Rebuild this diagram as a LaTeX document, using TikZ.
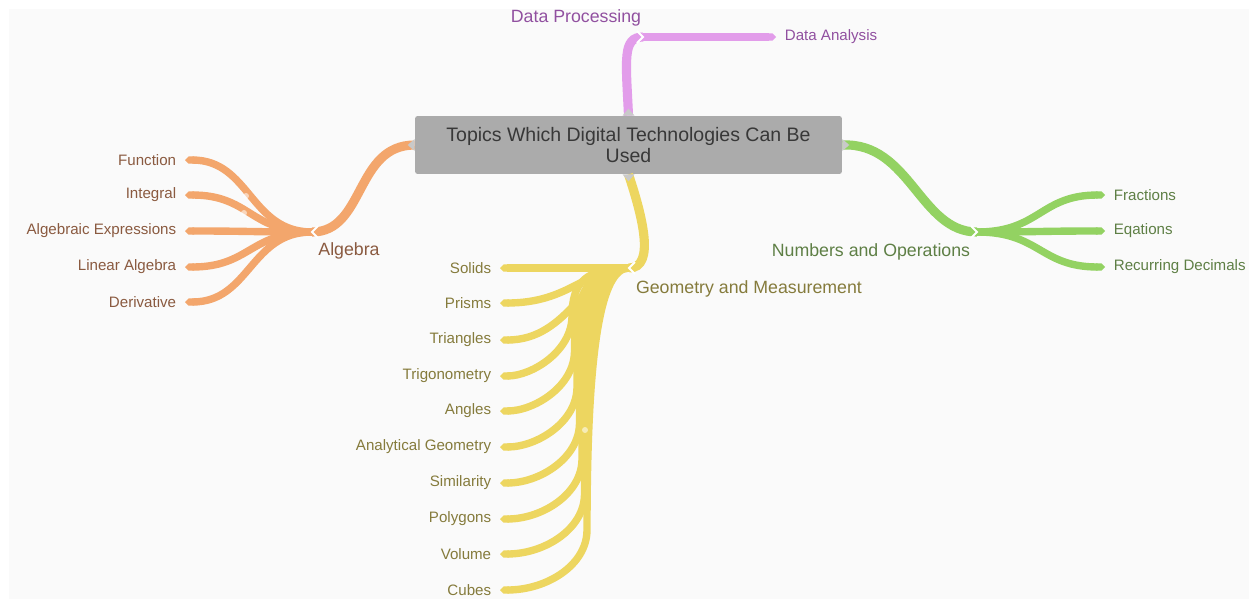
\documentclass[tikz,border=0pt]{standalone}
\usepackage{fontspec}
\setmainfont{Liberation Sans}
\usetikzlibrary{arrows.meta}
\definecolor{bgc}{HTML}{FAFAFA}
\definecolor{rootc}{HTML}{ABABAB}
\definecolor{roottext}{HTML}{383838}
\definecolor{tabc}{HTML}{C9C9C9}
\definecolor{algc}{HTML}{F3A66C}
\definecolor{algtext}{HTML}{8A5A40}
\definecolor{numc}{HTML}{93D262}
\definecolor{numtext}{HTML}{5E7F45}
\definecolor{geoc}{HTML}{EDD660}
\definecolor{geotext}{HTML}{857B3C}
\definecolor{datc}{HTML}{E29CEA}
\definecolor{dattext}{HTML}{9150A0}
\begin{document}
\begin{tikzpicture}[x=0.02cm,y=-0.02cm,
  rootbox/.style={fill=rootc, text=roottext, rounded corners=1.5pt, align=center,
    minimum width=8.54cm, minimum height=1.16cm, inner sep=0pt,
    font=\fontsize{11.1}{12}\selectfont},
  leaf/.style={font=\fontsize{8.6}{10}\selectfont, inner xsep=0.17cm, inner ysep=0pt},
  topic/.style={font=\fontsize{10.1}{12}\selectfont, inner sep=0pt},
  branch/.style={line width=5.2pt},
  twig/.style={line width=4.2pt, -{Triangle Cap}},
  notch/.style={draw=white, line width=1.1pt},
  tab/.style={fill=tabc},
  knob/.style={fill=white, fill opacity=0.55},
]
\fill[white] (0,0) rectangle (1249,599);
\fill[bgc] (9,9) rectangle (1249,599);
\useasboundingbox (0,0) rectangle (1249,599);

% root
\node[rootbox] (root) at (628.5,145) {Topics Which Digital Technologies Can Be\\Used};

% topic points and labels
\coordinate (dp) at (643,37);
\coordinate (alg) at (312,232);
\coordinate (num) at (977,232);
\coordinate (gm) at (629,268);
\node[topic, text=dattext] (dpL) at (576,18) {Data Processing};
\node[topic, text=algtext] (algL) at (349,251) {Algebra};
\node[topic, text=numtext] (numL) at (871,252) {Numbers and Operations};
\node[topic, text=geotext] (gmL) at (749,289) {Geometry and Measurement};

% main branches
\draw[branch, draw=datc] (root.north) .. controls (626,60) and (622,37) .. (dp);
\draw[branch, draw=algc] (root.west) .. controls (355,145) and (365,232) .. (alg);
\draw[branch, draw=numc] (root.east) .. controls (910,142) and (920,232) .. (num);
\draw[branch, draw=geoc] (root.south) .. controls (642,215) and (656,268) .. (gm);

% data processing child
\node[leaf, text=dattext, anchor=west] (da) at (776,37) {Data Analysis};
\draw[twig, draw=datc] (dp) -- (da.west);

% algebra children
\foreach \i/\t/\y in {1/Function/160, 2/Integral/195, 3/Algebraic Expressions/231, 4/Linear Algebra/267, 5/Derivative/302}{
  \node[leaf, text=algtext, anchor=east] (a\i) at (185,\y) {\t};
  \draw[twig, draw=algc] (alg) .. controls (250,232) and (250,\y) .. (a\i.east);
}

% numbers children
\foreach \i/\t/\y in {1/Fractions/195, 2/Eqations/231, 3/Recurring Decimals/267}{
  \node[leaf, text=numtext, anchor=west] (n\i) at (1105,\y) {\t};
  \draw[twig, draw=numc] (num) .. controls (1040,232) and (1040,\y) .. (n\i.west);
}

% geometry children
\node[leaf, text=geotext, anchor=east] (g1) at (500,268) {Solids};
\draw[twig, draw=geoc] (gm) -- (g1.east);
\foreach \i/\t/\y in {2/Prisms/303, 3/Triangles/340}{
  \node[leaf, text=geotext, anchor=east] (g\i) at (500,\y) {\t};
  \draw[twig, draw=geoc] (gm) .. controls (585,268) and (570,\y) .. (g\i.east);
}
\foreach \i/\t/\y in {4/Trigonometry/376, 5/Angles/411, 6/Analytical Geometry/447, 7/Similarity/483, 8/Polygons/519, 9/Volume/554, 10/Cubes/590}{
  \node[leaf, text=geotext, anchor=east] (g\i) at (500,\y) {\t};
  \pgfmathsetmacro\tx{572+2.5*(\i-4)}
  \pgfmathsetmacro\py{\y-60}
  \pgfmathsetmacro\cy{268+0.3*(\py-268)}
  \pgfmathsetmacro\qy{\y-25}
  \pgfmathsetmacro\sx{\tx-40}
  \draw[twig, draw=geoc] (gm) .. controls (\tx+14,268) and (\tx,\cy) .. (\tx,\py) .. controls (\tx,\qy) and (\sx,\y) .. (g\i.east);
}

% tabs on the root box
\fill[tab] ([xshift=-0.12cm]root.north) -- ([yshift=0.14cm]root.north) -- ([xshift=0.12cm]root.north) -- cycle;
\fill[tab] ([xshift=-0.12cm]root.south) -- ([yshift=-0.14cm]root.south) -- ([xshift=0.12cm]root.south) -- cycle;
\fill[tab] ([yshift=-0.12cm]root.west) -- ([xshift=-0.14cm]root.west) -- ([yshift=0.12cm]root.west) -- cycle;
\fill[tab] ([yshift=-0.12cm]root.east) -- ([xshift=0.14cm]root.east) -- ([yshift=0.12cm]root.east) -- cycle;

% notches at junctions
\draw[notch] ([shift={(6,-6)}]alg) -- (alg) -- ([shift={(6,6)}]alg);
\draw[notch] ([shift={(6,-6)}]gm) -- (gm) -- ([shift={(6,6)}]gm);
\draw[notch] ([shift={(-6,-6)}]num) -- (num) -- ([shift={(-6,6)}]num);
\draw[notch] ([shift={(-6,-6)}]dp) -- (dp) -- ([shift={(-6,6)}]dp);

% collapse knobs
\fill[knob] (246,196) circle (3);
\fill[knob] (244,213) circle (3);
\fill[knob] (585,430) circle (3);
\end{tikzpicture}
\end{document}
